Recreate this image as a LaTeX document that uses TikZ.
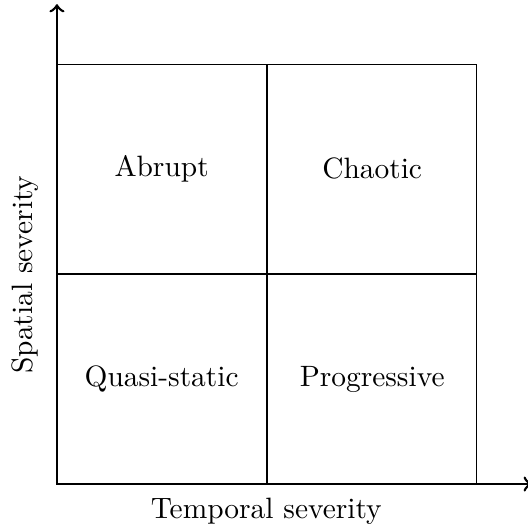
\documentclass[tikz,border=0pt]{standalone}
\usepackage{tikz}
\usetikzlibrary{positioning}

\begin{document}
\begin{tikzpicture}[node distance=0cm,
cell/.style={rectangle,draw,align=center,minimum size=2.5cm,inner sep=0pt},
axis/.style={->,line width=0.9pt}]
\useasboundingbox (-0.68,-0.525) rectangle (5.62,5.78);
\coordinate (o) at (0,0);
\coordinate (xend) at (5.67,0);
\coordinate (yend) at (0,5.73);
\node[cell] (quasi) at (1.25,1.25) {Quasi-static};
\node[cell,right=of quasi] (progressive) {Progressive};
\node[cell,above=of quasi] (abrupt) {Abrupt};
\node[cell,above=of progressive] (chaotic) {Chaotic};
\draw[axis](o)--(xend); \draw[axis](o)--(yend);
\node[rotate=90] (spatial) at (-0.38,2.5) {Spatial severity};
\node (temporal) at (2.5,-0.33) {Temporal severity};
\end{tikzpicture}
\end{document}
